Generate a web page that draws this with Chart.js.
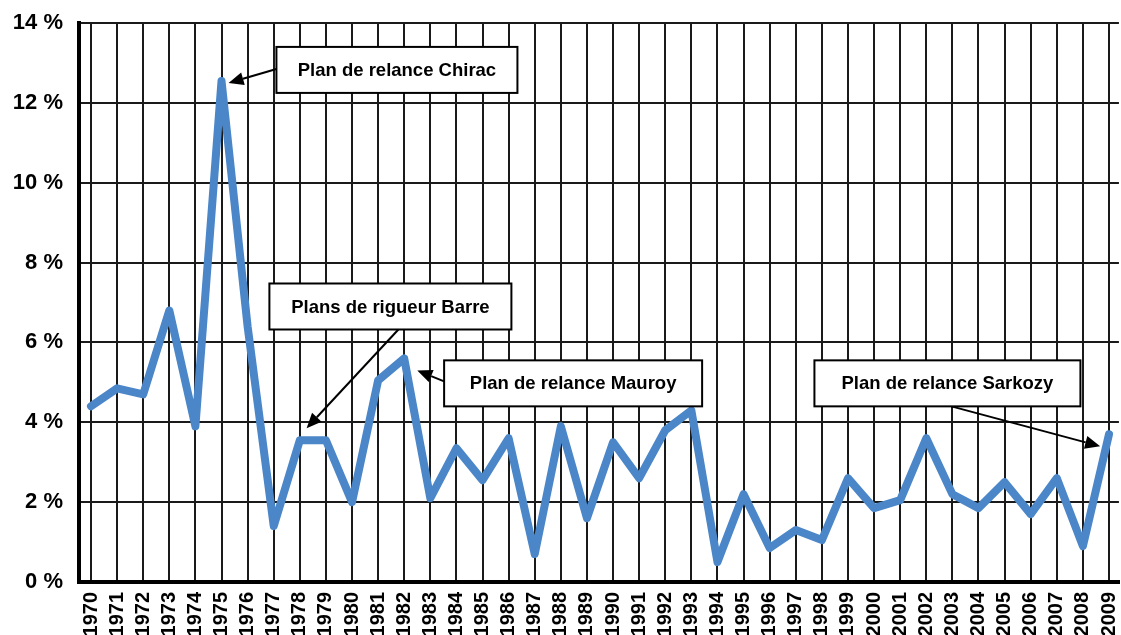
<!DOCTYPE html>
<html>
<head>
<meta charset="utf-8">
<script src="https://cdn.jsdelivr.net/npm/chart.js@4.4.1/dist/chart.umd.min.js"></script>
<style>
  html, body { margin: 0; padding: 0; background: #fff; overflow: hidden; }
</style>
</head>
<body>
<canvas id="growthChart" width="1143" height="635"></canvas>
<script>
// Data
const years = [1970, 1971, 1972, 1973, 1974, 1975, 1976, 1977, 1978, 1979,
               1980, 1981, 1982, 1983, 1984, 1985, 1986, 1987, 1988, 1989,
               1990, 1991, 1992, 1993, 1994, 1995, 1996, 1997, 1998, 1999,
               2000, 2001, 2002, 2003, 2004, 2005, 2006, 2007, 2008, 2009];
const growth = [4.4, 4.85, 4.7, 6.8, 3.9, 12.55, 6.4, 1.4, 3.55, 3.55,
                2.0, 5.05, 5.6, 2.1, 3.35, 2.55, 3.6, 0.7, 3.9, 1.6,
                3.5, 2.6, 3.8, 4.3, 0.5, 2.2, 0.85, 1.3, 1.05, 2.6,
                1.85, 2.05, 3.6, 2.2, 1.85, 2.5, 1.7, 2.6, 0.9, 3.7];
const yTicks = [0, 2, 4, 6, 8, 10, 12, 14];
const noteTexts = ['Plan de relance Chirac', 'Plans de rigueur Barre',
                   'Plan de relance Mauroy', 'Plan de relance Sarkozy'];

const FONT = '"Liberation Sans", Arial, sans-serif';

// Callout boxes: centre in data units, size in px, tail offset from centre, arrow tip in data units
const callouts = [
    { cx: 1981.72, cy: 12.825, w: 241, h: 46, tail: [-120.5, -1], tip: [1975.27, 12.5] },
    { cx: 1981.47, cy: 6.9,    w: 242, h: 46, tail: [8, 23],      tip: [1978.26, 3.85] },
    { cx: 1988.47, cy: 4.975,  w: 258, h: 46, tail: [-129, -2],   tip: [1982.50, 5.3] },
    { cx: 2002.81, cy: 4.975,  w: 266, h: 46, tail: [4, 23],      tip: [2008.66, 3.4] }
];

const calloutPlugin = {
    id: 'callouts',
    afterDatasetsDraw(chart) {
        const ctx = chart.ctx;
        const xs = chart.scales.x, ys = chart.scales.y;
        ctx.save();
        callouts.forEach((c, i) => {
            const bx = xs.getPixelForValue(c.cx);
            const by = ys.getPixelForValue(c.cy);
            const tx = bx + c.tail[0], ty = by + c.tail[1];
            const px = xs.getPixelForValue(c.tip[0]);
            const py = ys.getPixelForValue(c.tip[1]);

            // arrow shaft + head
            const ang = Math.atan2(py - ty, px - tx);
            const headLen = 15, headHalf = 6.5;
            const baseX = px - headLen * Math.cos(ang);
            const baseY = py - headLen * Math.sin(ang);
            ctx.strokeStyle = '#000';
            ctx.lineWidth = 2;
            ctx.beginPath();
            ctx.moveTo(tx, ty);
            ctx.lineTo(baseX, baseY);
            ctx.stroke();
            ctx.fillStyle = '#000';
            ctx.beginPath();
            ctx.moveTo(px, py);
            ctx.lineTo(baseX + headHalf * Math.sin(ang), baseY - headHalf * Math.cos(ang));
            ctx.lineTo(baseX - headHalf * Math.sin(ang), baseY + headHalf * Math.cos(ang));
            ctx.closePath();
            ctx.fill();

            // box
            ctx.fillStyle = '#fff';
            ctx.fillRect(bx - c.w / 2, by - c.h / 2, c.w, c.h);
            ctx.lineWidth = 2;
            ctx.strokeRect(bx - c.w / 2, by - c.h / 2, c.w, c.h);

            ctx.fillStyle = '#000';
            ctx.font = 'bold 18.5px ' + FONT;
            ctx.textAlign = 'center';
            ctx.textBaseline = 'middle';
            ctx.fillText(noteTexts[i], bx, by + 1);
        });
        ctx.restore();
    }
};

const ctx = document.getElementById('growthChart').getContext('2d');
new Chart(ctx, {
    type: 'line',
    data: {
        datasets: [{
            label: 'Croissance',
            data: years.map((y, i) => ({ x: y, y: growth[i] })),
            borderColor: '#4a86c8',
            borderWidth: 8,
            borderJoinStyle: 'round',
            borderCapStyle: 'round',
            tension: 0,
            pointRadius: 0,
            fill: false
        }]
    },
    options: {
        responsive: false,
        animation: false,
        layout: { padding: { top: 23, left: 0, right: 0, bottom: 0 } },
        plugins: {
            legend: { display: false },
            tooltip: { enabled: false }
        },
        scales: {
            x: {
                type: 'linear',
                min: 1969.54,
                max: 2009.38,
                afterBuildTicks: (scale) => { scale.ticks = years.map(v => ({ value: v })); },
                afterFit: (scale) => { scale.height = 53; },
                grid: { color: '#1a1a1a', lineWidth: 2, drawTicks: false },
                border: { display: true, color: '#000', width: 4 },
                ticks: {
                    autoSkip: false,
                    minRotation: 90,
                    maxRotation: 90,
                    padding: 10,
                    color: '#000',
                    font: { family: FONT, size: 20, weight: 'bold' },
                    callback: (v) => String(v)
                }
            },
            y: {
                min: 0,
                max: 14,
                afterBuildTicks: (scale) => { scale.ticks = yTicks.map(v => ({ value: v })); },
                afterFit: (scale) => {
                    scale.width = 79;
                    scale.paddingTop = 0;
                    scale.paddingBottom = 0;
                },
                grid: { color: '#1a1a1a', lineWidth: 2, drawTicks: false },
                border: { display: true, color: '#000', width: 4 },
                ticks: {
                    padding: 16,
                    color: '#000',
                    font: { family: FONT, size: 22, weight: 'bold' },
                    callback: (v) => v + ' %'
                }
            }
        }
    },
    plugins: [calloutPlugin]
});
</script>
</body>
</html>
